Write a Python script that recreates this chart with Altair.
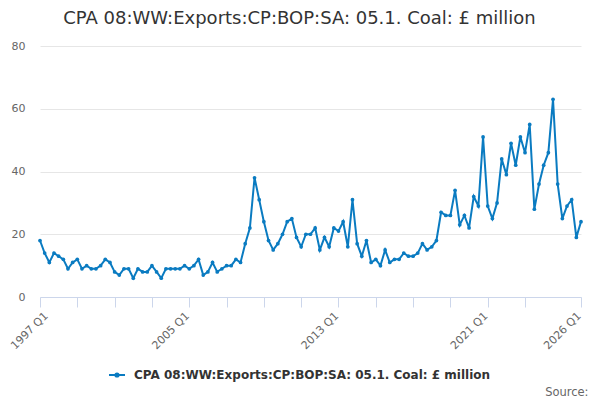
import altair as alt
import pandas as pd

series_name = "CPA 08:WW:Exports:CP:BOP:SA: 05.1. Coal: £ million"
start_year = 1997

values = [
    18, 14, 11, 14, 13, 12, 9, 11, 12, 9, 10, 9, 9, 10, 12, 11, 8, 7, 9, 9, 6, 9, 8, 8,
    10, 8, 6, 9, 9, 9, 9, 10, 9, 10, 12, 7, 8, 11, 8, 9, 10, 10, 12, 11, 17, 22,
    38, 31, 24, 18, 15, 17, 20, 24,
    25, 19, 16, 20, 20, 22, 15, 19, 16, 22, 21, 24, 16, 31, 17, 13, 18, 11, 12, 10,
    15, 11, 12, 12, 14, 13, 13, 14, 17, 15, 16, 18,
    27, 26, 26, 34, 23, 26, 22, 32, 29, 51, 29, 25, 30, 44, 39, 49, 42, 51, 46, 55,
    28, 36, 42, 46, 63, 36, 25, 29, 31, 19, 24,
]
quarters = [f"{start_year + i // 4} Q{i % 4 + 1}" for i in range(len(values))]
tick_quarters = [quarters[i] for i in range(0, 105, 8)] + [quarters[-1]]
label_quarters = ["1997 Q1", "2005 Q1", "2013 Q1", "2021 Q1", "2026 Q1"]
y_ticks = [0, 20, 40, 60, 80]

df = pd.DataFrame({"quarter": quarters, "value": values, "series": series_name})

FONT = "DejaVu Sans"
line_color = "#0a7bc1"

cond = " || ".join(f"datum.value == '{q}'" for q in label_quarters)
label_expr = f"({cond}) ? datum.value : ''"

x = alt.X(
    "quarter:N",
    sort=None,
    scale=alt.Scale(type="point", padding=0),
    axis=alt.Axis(
        values=tick_quarters,
        labelExpr=label_expr,
        labelAngle=-45,
        labelAlign="right",
        labelBaseline="middle",
        labelOverlap=False,
        labelFont=FONT,
        labelFontSize=11,
        labelColor="#666666",
        labelPadding=7,
        labelOffset={"condition": {"test": f"datum.value == '{label_quarters[0]}'", "value": 6}, "value": -2},
        tickSize=10,
        tickColor="#ccd6eb",
        domainColor="#ccd6eb",
        grid=False,
        title="Source:",
        titleFont=FONT,
        titleFontSize=11.5,
        titleFontWeight="normal",
        titleColor="#666666",
        titleAlign="right",
        titleBaseline="middle",
        titleX=548,
        titleY=95,
    ),
)
y = alt.Y(
    "value:Q",
    scale=alt.Scale(domain=[0, 80], nice=False),
    axis=alt.Axis(
        values=y_ticks,
        title=None,
        domain=False,
        ticks=False,
        gridColor="#e6e6e6",
        labelFont=FONT,
        labelFontSize=11,
        labelColor="#666666",
        labelPadding=15,
    ),
)
color = alt.Color(
    "series:N",
    scale=alt.Scale(range=[line_color]),
    legend=alt.Legend(
        title=None,
        orient="none",
        legendX=68,
        legendY=320,
        labelFont=FONT,
        labelFontSize=12,
        labelFontWeight="bold",
        labelColor="#333333",
        labelLimit=0,
        symbolType="M-1,0H1M0.2,0A0.2,0.2,0,1,1,-0.2,0A0.2,0.2,0,1,1,0.2,0",
        symbolSize=256,
        symbolStrokeWidth=2,
        labelOffset=8,
    ),
)

chart = (
    alt.Chart(df)
    .mark_line(strokeWidth=2, point=alt.OverlayMarkDef(filled=True, size=14, opacity=1))
    .encode(x=x, y=y, color=color)
    .properties(
        width=541,
        height=251,
        autosize=alt.AutoSizeParams(type="none"),
        padding={"left": 32, "top": 38, "right": 11, "bottom": 100},
        title=alt.Title(
            series_name,
            font=FONT,
            fontSize=18,
            fontWeight="normal",
            color="#333333",
            anchor="middle",
            dx=-11,
            offset=12,
        ),
    )
    .configure_view(stroke=None)
)

chart.save("out.html", embed_options={"renderer": "svg", "actions": False})
